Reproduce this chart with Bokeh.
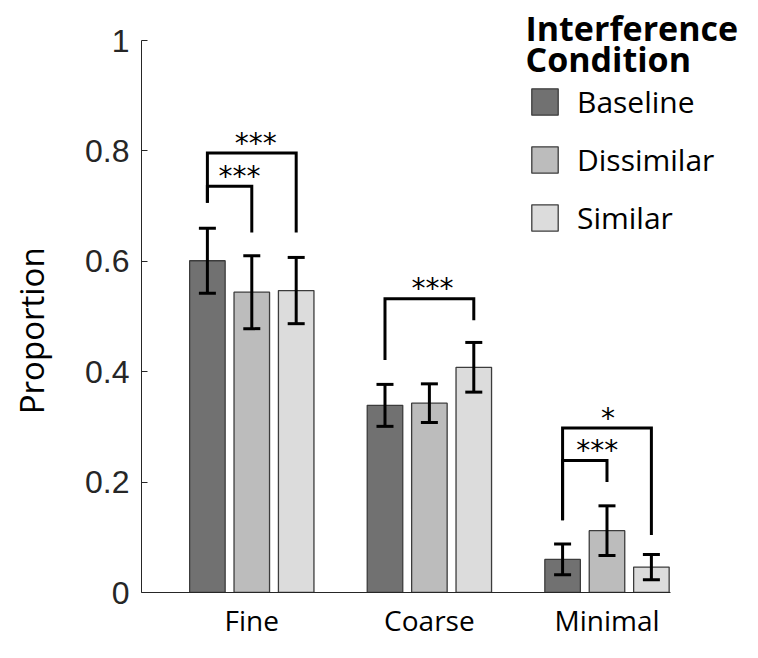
from bokeh.plotting import figure
from bokeh.models import (Range1d, FixedTicker, Whisker, TeeHead, ColumnDataSource,
                          Legend, LegendItem, Label)
from bokeh.embed import file_html
from bokeh.resources import INLINE
from bokeh.core.properties import value

# ---------------- data ----------------
categories = ["Fine", "Coarse", "Minimal"]
conditions = ["Baseline", "Dissimilar", "Similar"]
baseline = [0.601, 0.339, 0.060]
dissimilar = [0.544, 0.343, 0.112]
similar = [0.547, 0.408, 0.046]
baseline_err = [0.059, 0.038, 0.028]
dissimilar_err = [0.066, 0.035, 0.045]
similar_err = [0.060, 0.045, 0.023]
y_ticks = [0, 0.2, 0.4, 0.6, 0.8, 1]
y_tick_labels = ["0", "0.2", "0.4", "0.6", "0.8", "1"]
y_title = "Proportion"
legend_title = ["Interference", "Condition"]

# significance comparisons
sig_category = ["Fine", "Fine", "Coarse", "Minimal", "Minimal"]
sig_from = ["Baseline", "Baseline", "Baseline", "Baseline", "Baseline"]
sig_to = ["Dissimilar", "Similar", "Similar", "Dissimilar", "Similar"]
sig_height = [0.736, 0.796, 0.532, 0.239, 0.298]
sig_left_bottom = [0.706, 0.706, 0.421, 0.131, 0.131]
sig_right_bottom = [0.652, 0.652, 0.493, 0.200, 0.104]
sig_stars = ["***", "***", "***", "***", "*"]

# ---------------- layout / style ----------------
offsets = {"Baseline": -0.25, "Dissimilar": 0.0, "Similar": 0.25}
star_shift = [0.056, 0.022, 0.017, 0.07, 0.005]
colors = {"Baseline": "#717171", "Dissimilar": "#bcbcbc", "Similar": "#dcdcdc"}
values = {"Baseline": baseline, "Dissimilar": dissimilar, "Similar": similar}
errors = {"Baseline": baseline_err, "Dissimilar": dissimilar_err, "Similar": similar_err}
cat_pos = {c: i + 1 for i, c in enumerate(categories)}

W, H = 742, 642
FRAME_LEFT = 141.0
FRAME_BOTTOM = 592
PX_X = 177.6
PX_Y = 552.0
x0 = 0.379
x_end = x0 + (W - FRAME_LEFT) / PX_X
y_end = FRAME_BOTTOM / PX_Y

p = figure(width=W, height=H, x_range=Range1d(x0, x_end), y_range=Range1d(0, y_end),
           output_backend="svg", toolbar_location=None, title=None,
           min_border_left=141, min_border_right=0, min_border_top=0, min_border_bottom=50)
p.outline_line_color = None
p.xgrid.visible = False
p.ygrid.visible = False
p.background_fill_color = "white"

items = []
for cond in conditions:
    xs = [cat_pos[c] + offsets[cond] for c in categories]
    v = values[cond]
    e = errors[cond]
    src = ColumnDataSource(dict(x=xs, top=v, upper=[a + b for a, b in zip(v, e)],
                                lower=[a - b for a, b in zip(v, e)]))
    r = p.vbar(x="x", top="top", width=0.2, bottom=0, source=src,
               fill_color=colors[cond], line_color="#3c3c3c", line_width=1.3)
    items.append(LegendItem(label=cond, renderers=[r]))
    w = Whisker(source=src, base="x", upper="upper", lower="lower", level="overlay",
                line_color="black", line_width=3,
                upper_head=TeeHead(size=17, line_width=3, line_color="black"),
                lower_head=TeeHead(size=17, line_width=3, line_color="black"))
    p.add_layout(w)

# brackets
bx, by, sx, sy = [], [], [], []
for i in range(len(sig_category)):
    x1 = cat_pos[sig_category[i]] + offsets[sig_from[i]]
    x2 = cat_pos[sig_category[i]] + offsets[sig_to[i]]
    h = sig_height[i]
    bx.append([x1, x1, x2, x2])
    by.append([sig_left_bottom[i], h, h, sig_right_bottom[i]])
    sx.append((x1 + x2) / 2 + star_shift[i])
    sy.append(h)
p.multi_line(xs=bx, ys=by, line_color="black", line_width=3, line_join="miter")
p.text(x=sx, y=sy, text=sig_stars, text_font=value("DejaVu Sans"), text_font_size="28px",
       text_align="center", text_baseline="alphabetic", text_color="black", y_offset=-10)

# axes
p.yaxis.bounds = (0, 1)
p.yaxis.ticker = FixedTicker(ticks=y_ticks)
p.yaxis.major_label_overrides = dict(zip(y_ticks, y_tick_labels))
p.yaxis.major_label_text_font = "Liberation Sans"
p.yaxis.major_label_text_font_size = "32px"
p.yaxis.major_label_text_color = "#262626"
p.yaxis.major_tick_in = 6
p.yaxis.major_tick_out = 0
p.yaxis.minor_tick_line_color = None
p.yaxis.major_label_standoff = 12
p.yaxis.axis_line_color = "#262626"
p.yaxis.major_tick_line_color = "#262626"
# trailing no-break spaces keep the title centred on the 0..1 axis span
p.yaxis.axis_label = y_title + "\u00a0" * 8
p.yaxis.axis_label_text_font = "Open Sans"
p.yaxis.axis_label_text_font_size = "33px"
p.yaxis.axis_label_text_font_style = "normal"
p.yaxis.axis_label_text_color = "black"
p.yaxis.axis_label_standoff = 28

p.xaxis.bounds = (x0, 3.355)
p.xaxis.ticker = FixedTicker(ticks=[cat_pos[c] for c in categories])
p.xaxis.major_label_overrides = {cat_pos[c]: c for c in categories}
p.xaxis.major_label_text_font = "Open Sans"
p.xaxis.major_label_text_font_size = "28px"
p.xaxis.major_label_text_color = "black"
p.xaxis.major_tick_line_color = None
p.xaxis.major_tick_out = 0
p.xaxis.major_tick_in = 0
p.xaxis.minor_tick_line_color = None
p.xaxis.major_label_standoff = 8
p.xaxis.axis_line_color = "#262626"

legend = Legend(items=items, location=(387, 354), glyph_width=33, glyph_height=33,
                label_text_font="Open Sans", label_text_font_size="30px",
                label_text_color="black",
                label_standoff=16, spacing=17, padding=0, margin=0,
                border_line_alpha=0, background_fill_alpha=0)
p.add_layout(legend)

for txt, yy in zip(legend_title, [565, 534]):
    p.add_layout(Label(x=384, y=yy, x_units="screen", y_units="screen", text=txt,
                       text_font="Open Sans", text_font_style="bold", text_font_size="34px",
                       text_baseline="alphabetic", text_align="left", text_color="black"))

open("out.html", "w").write(file_html(p, INLINE))
